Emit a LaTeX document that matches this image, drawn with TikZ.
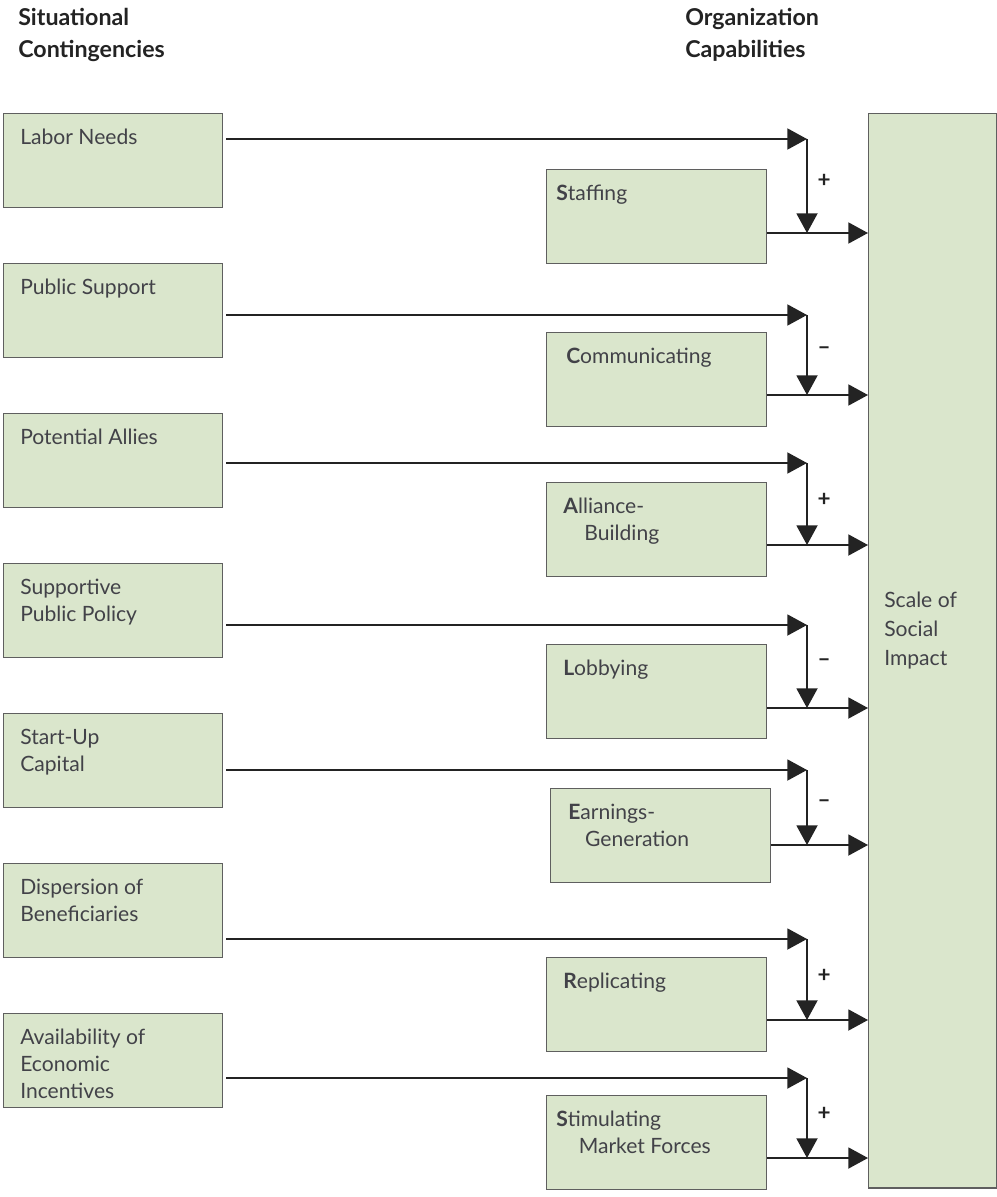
\documentclass[tikz,border=0pt]{standalone}
\usepackage{fontspec}
\setmainfont{Lato}
\usetikzlibrary{arrows.meta,positioning}
\definecolor{ScaleGreen}{RGB}{218,230,204}
\definecolor{ScaleRule}{RGB}{95,95,95}
\definecolor{ScaleInk}{RGB}{35,35,35}
\definecolor{ScaleText}{RGB}{66,66,72}

\begin{document}
\begin{tikzpicture}[
    x=0.025cm, y=-0.025cm,
    node distance=1.368cm,
    cbox/.style={draw=ScaleRule,line width=0.9pt,fill=ScaleGreen,minimum width=5.475cm,minimum height=2.35cm,inner sep=0pt,anchor=north west},
    mbox/.style={cbox,minimum width=5.5cm},
    txt/.style={anchor=north west,inner sep=0pt,align=left,font=\fontsize{15}{19}\selectfont,text=ScaleText},
    head/.style={anchor=north west,inner sep=0pt,align=left,font=\fontsize{16.5}{23}\selectfont\bfseries,text=ScaleInk},
    sign/.style={anchor=west,inner sep=0pt,xshift=7pt,font=\fontsize{16}{16}\selectfont\bfseries,text=ScaleInk},
    arr/.style={-{Triangle[length=14pt,width=15pt]},line width=1.1pt,draw=ScaleInk}
  ]
    \useasboundingbox (0,0) rectangle (997,1197);
    % column headings
    \node[head] (sitHead) at (18,8) {Situational\\Contingencies};
    \node[head] (orgHead) at (685,8) {Organization\\Capabilities};
    % situational contingencies
    \node[cbox] (labor) at (3,113) {};
    \node[cbox,below=of labor] (support) {};
    \node[cbox,below=of support] (allies) {};
    \node[cbox,below=of allies] (policy) {};
    \node[cbox,below=of policy] (capital) {};
    \node[cbox,below=of capital] (disp) {};
    \node[cbox,below=of disp] (avail) {};
    \node[txt] (laborT) at ([shift={(17,16)}]labor.north west) {Labor Needs};
    \node[txt] (supportT) at ([shift={(17,16)}]support.north west) {Public Support};
    \node[txt] (alliesT) at ([shift={(17,16)}]allies.north west) {Potential Allies};
    \node[txt] (policyT) at ([shift={(17,16)}]policy.north west) {Supportive\\Public Policy};
    \node[txt] (capitalT) at ([shift={(17,16)}]capital.north west) {Start-Up\\Capital};
    \node[txt] (dispT) at ([shift={(17,16)}]disp.north west) {Dispersion of\\Beneficiaries};
    \node[txt] (availT) at ([shift={(17,16)}]avail.north west) {Availability of\\Economic\\Incentives};
    % organization capabilities
    \node[mbox] (staff) at (546,169) {};
    \node[mbox] (comm) at (546,332) {};
    \node[mbox] (alliance) at (546,482) {};
    \node[mbox] (lobby) at (546,644) {};
    \node[mbox] (earn) at (550,788) {};
    \node[mbox] (repl) at (546,957) {};
    \node[mbox] (stim) at (546,1095) {};
    \node[txt] (staffT) at ([shift={(10,16)}]staff.north west) {\textbf{S}taffing};
    \node[txt] (commT) at ([shift={(20,16)}]comm.north west) {\textbf{C}ommunicating};
    \node[txt] (allianceT) at ([shift={(17,16)}]alliance.north west) {\textbf{A}lliance-\\\hspace*{15pt}Building};
    \node[txt] (lobbyT) at ([shift={(17,16)}]lobby.north west) {\textbf{L}obbying};
    \node[txt] (earnT) at ([shift={(18,16)}]earn.north west) {\textbf{E}arnings-\\\hspace*{12pt}Generation};
    \node[txt] (replT) at ([shift={(17,16)}]repl.north west) {\textbf{R}eplicating};
    \node[txt] (stimT) at ([shift={(10,16)}]stim.north west) {\textbf{S}timulating\\\hspace*{16pt}Market Forces};
    % outcome
    \node[cbox,minimum width=3.2cm,minimum height=26.85cm] (impact) at (868,113) {};
    \node[txt,font=\fontsize{15}{20.5}\selectfont] (impactT) at ([shift={(16,479)}]impact.north west) {Scale of\\Social\\Impact};
    % moderating arrows
    \foreach \src/\dst/\ty/\by/\sgn/\k in {labor/staff/139/233/+/1,support/comm/315/395/--/2,allies/alliance/463/545/+/3,policy/lobby/625/708/--/4,capital/earn/770/845/--/5,disp/repl/939/1020/+/6,avail/stim/1078/1158/+/7}{
      \coordinate (j\k) at (807,\ty);
      \coordinate (k\k) at (807,\by);
      \draw[arr,shorten <=2pt] (\src.east |- j\k) -- (j\k);
      \draw[arr] (j\k) -- node[sign,pos=0.45] {\sgn} (k\k);
      \draw[arr] (\dst.east |- k\k) -- (impact.west |- k\k);
    }
  \end{tikzpicture}
\end{document}
